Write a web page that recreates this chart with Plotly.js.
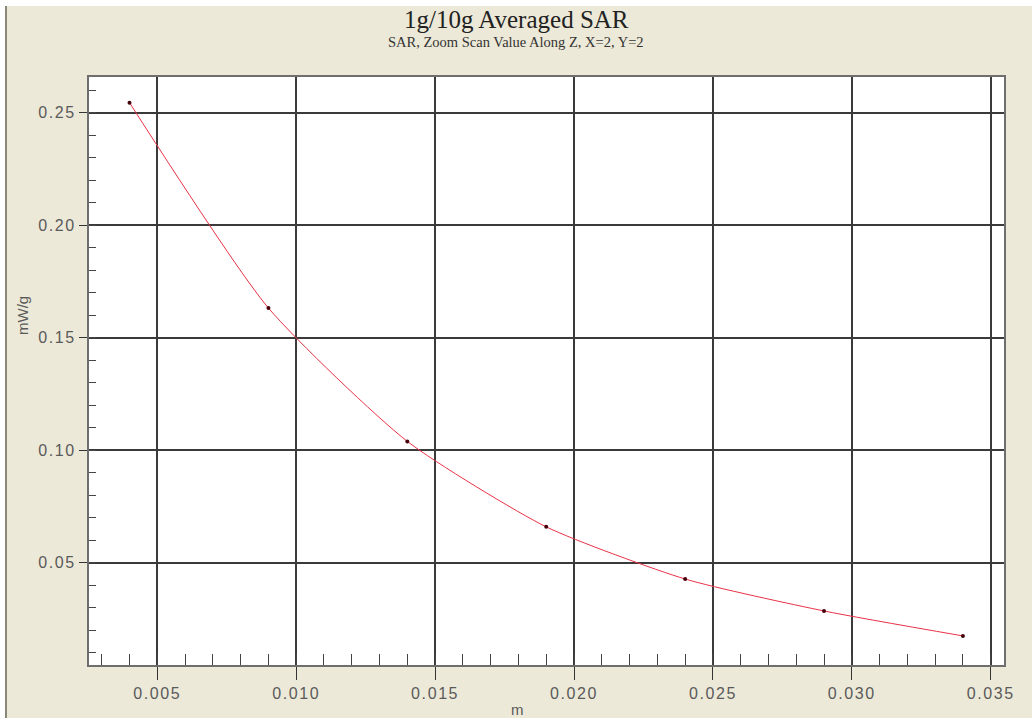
<!DOCTYPE html>
<html>
<head>
<meta charset="utf-8">
<script src="https://cdn.plot.ly/plotly-3.0.1.min.js"></script>
<style>
  html, body { margin: 0; padding: 0; background: #ffffff; width: 1032px; height: 718px; overflow: hidden; }
  #chart { position: absolute; left: 5px; top: 6px; width: 1027px; height: 712px; border-left: 2px solid #8a8778; box-sizing: border-box; }
  #chart .xtick text, #chart .ytick text { letter-spacing: 1.6px; }
</style>
</head>
<body>
<div id="chart"></div>
<script>
// Data
const depth_m = [0.004, 0.009, 0.014, 0.019, 0.024, 0.029, 0.034];
const sar_mWg = [0.2545, 0.1632, 0.1039, 0.0659, 0.0427, 0.0285, 0.0174];

const titleText = '1g/10g Averaged SAR';
const subtitleText = 'SAR, Zoom Scan Value Along Z, X=2, Y=2';
const xLabel = 'm';
const yLabel = 'mW/g';

const offX = 7, offY = 6;         // div content origin in page (incl. border)
const W = 1032 - offX, H = 718 - offY;
const plotL = 89, plotR = 1004, plotT = 77, plotB = 665;
const pw = plotR - plotL, ph = plotB - plotT;
const px = (x) => (x - plotL) / pw;          // page x -> paper x
const py = (y) => (plotB - y) / ph;          // page y -> paper y

const trace = {
  x: depth_m,
  y: sar_mWg,
  type: 'scatter',
  mode: 'lines+markers',
  line: { color: 'rgb(232,50,70)', width: 1, shape: 'spline', smoothing: 0.6 },
  marker: { color: 'rgb(70,0,10)', size: 4 },
  hoverinfo: 'x+y'
};

const tickFont = { family: 'Liberation Sans, Arial, sans-serif', size: 16, color: '#5a5a5a' };
const labFont = { family: 'Liberation Sans, Arial, sans-serif', size: 15, color: '#5a5a5a' };

const layout = {
  width: W,
  height: H,
  paper_bgcolor: '#ECE9D8',
  plot_bgcolor: '#ffffff',
  showlegend: false,
  margin: { l: plotL - offX, r: 1032 - plotR, t: plotT - offY, b: 718 - plotB, pad: 0 },
  xaxis: {
    range: [0.002541, 0.035479],
    tick0: 0, dtick: 0.005,
    tickformat: '.3f',
    ticks: 'outside', ticklen: 13, tickwidth: 1, tickcolor: '#333333',
    showgrid: true, gridcolor: '#3a3a3a', gridwidth: 2,
    zeroline: false,
    showline: true, linecolor: '#6e6e6e', linewidth: 2, mirror: true,
    tickfont: tickFont,
    minor: { dtick: 0.001, tick0: 0, ticks: 'inside', ticklen: 11, tickwidth: 1, tickcolor: '#444444', showgrid: false }
  },
  yaxis: {
    range: [0.00447, 0.26593],
    tick0: 0, dtick: 0.05,
    tickformat: '.2f',
    ticks: 'outside', ticklen: 8, tickwidth: 1, tickcolor: '#333333',
    showgrid: true, gridcolor: '#3a3a3a', gridwidth: 2,
    zeroline: false,
    showline: true, linecolor: '#6e6e6e', linewidth: 2, mirror: true,
    tickfont: tickFont,
    minor: { dtick: 0.01, tick0: 0, ticks: 'inside', ticklen: 7, tickwidth: 1, tickcolor: '#444444', showgrid: false }
  },
  annotations: [
    {
      text: titleText, xref: 'paper', yref: 'paper', x: px(516), y: py(19),
      xanchor: 'center', yanchor: 'middle', showarrow: false,
      font: { family: 'Liberation Serif, Times New Roman, serif', size: 25, color: '#222222' }
    },
    {
      text: subtitleText, xref: 'paper', yref: 'paper', x: px(516), y: py(42),
      xanchor: 'center', yanchor: 'middle', showarrow: false,
      font: { family: 'Liberation Serif, Times New Roman, serif', size: 14.5, color: '#333333' }
    },
    {
      text: xLabel, xref: 'paper', yref: 'paper', x: px(517), y: py(709),
      xanchor: 'center', yanchor: 'middle', showarrow: false, font: labFont
    },
    {
      text: yLabel, xref: 'paper', yref: 'paper', x: px(22), y: py(316),
      xanchor: 'center', yanchor: 'middle', showarrow: false, textangle: -90, font: labFont
    }
  ]
};

Plotly.newPlot('chart', [trace], layout, { displayModeBar: false, staticPlot: true });
</script>
</body>
</html>
